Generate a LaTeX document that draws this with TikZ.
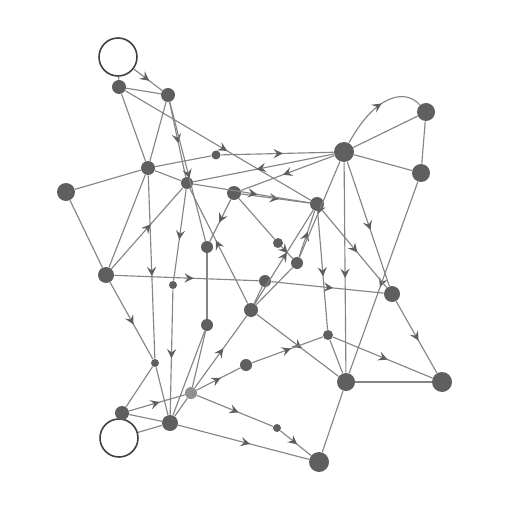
\documentclass[tikz,border=0pt]{standalone}
\usepackage{tikz}
\usetikzlibrary{arrows,decorations.markings}

\definecolor{dotgray}{HTML}{5F5F5F}
\definecolor{linegray}{HTML}{858585}

\begin{document}
\begin{tikzpicture}[x=0.2mm,y=-0.2mm,
		dot/.style={circle,fill=dotgray,inner sep=0pt,minimum size=#1},
		ring/.style={circle,draw=black!75,line width=0.9pt,fill=white,inner sep=0pt,minimum size=7.6mm},
		wire/.style={draw=linegray,line width=0.65pt}]
		\useasboundingbox (0,0) rectangle (512,512);
		\begin{scope}[decoration={markings,mark=at position 0.55 with {\arrow[scale=1.4,>=stealth,dotgray]{>}}}]
		
		% Open rings
		\node[ring] (ringT) at (118,57) {};
		\node[ring] (ringB) at (119,438) {};
		
		% Left column
		\node[dot=2.8mm] (a) at (119,87) {};
		\node[dot=2.8mm] (b) at (168,95) {};
		\node[dot=2.8mm] (c) at (148,168) {};
		\node[dot=3.6mm] (d) at (66,192) {};
		\node[dot=3.2mm] (e) at (106,275) {};
		\node[dot=1.6mm] (aa) at (155,363) {};
		\node[dot=1.6mm] (cc) at (173,285) {};
		\node[dot=2.8mm] (p) at (122,413) {};
		\node[dot=3.2mm] (o) at (170,423) {};
		\node[dot=2.4mm,fill=dotgray!70] (q) at (191,393) {};
		
		% Middle
		\node[dot=2.4mm] (j) at (187,183) {};
		\node[dot=1.8mm] (bb) at (216,155) {};
		\node[dot=2.8mm] (i) at (234,193) {};
		\node[dot=2.4mm] (x) at (207,247) {};
		\node[dot=2.4mm] (y) at (207,325) {};
		\node[dot=2.4mm] (t) at (265,281) {};
		\node[dot=2.8mm] (s) at (251,310) {};
		\node[dot=2.4mm] (z) at (246,365) {};
		\node[dot=2mm] (v) at (278,243) {};
		\node[dot=2.4mm] (w) at (297,263) {};
		\node[dot=2mm] (u) at (328,335) {};
		\node[dot=1.6mm] (dd) at (277,428) {};
		
		% Right side
		\node[dot=2.8mm] (k) at (317,204) {};
		\node[dot=4mm] (f) at (344,152) {};
		\node[dot=3.6mm] (g) at (426,112) {};
		\node[dot=3.6mm] (h) at (421,173) {};
		\node[dot=3.2mm] (r) at (392,294) {};
		\node[dot=3.6mm] (l) at (346,382) {};
		\node[dot=4mm] (m) at (442,382) {};
		\node[dot=4mm] (n) at (319,462) {};
		
		% Draw top lines
		\draw [wire] (ringT) -- (a);
		\draw [wire,postaction={decorate}] (ringT) -- (b);
		\draw [wire] (a) -- (b);
		\draw [wire] (a) -- (c);
		\draw [wire,postaction={decorate}] (a) -- (k);
		\draw [wire] (b) -- (c);
		\draw [wire,postaction={decorate}] (b) -- (j);
		\draw [wire,postaction={decorate}] (b) -- (x);
		
		% Draw left lines
		\draw [wire] (c) -- (d);
		\draw [wire] (c) -- (e);
		\draw [wire] (d) -- (e);
		\draw [wire] (c) -- (bb);
		\draw [wire,postaction={decorate}] (bb) -- (f);
		\draw [wire,postaction={decorate}] (c) -- (aa);
		\draw [wire] (c) -- (j);
		\draw [wire,postaction={decorate}] (e) -- (j);
		\draw [wire,postaction={decorate}] (e) -- (t);
		\draw [wire,postaction={decorate}] (e) -- (aa);
		\draw [wire] (aa) -- (o);
		\draw [wire] (p) -- (aa);
		\draw [wire,postaction={decorate}] (j) -- (cc);
		\draw [wire,postaction={decorate}] (cc) -- (o);
		
		% Draw bottom left lines
		\draw [wire] (o) -- (ringB);
		\draw [wire] (p) -- (o);
		\draw [wire,postaction={decorate}] (p) -- (q);
		\draw [wire] (o) -- (q);
		\draw [wire,postaction={decorate}] (q) -- (s);
		\draw [wire,postaction={decorate}] (q) -- (z);
		\draw [wire] (y) -- (q);
		\draw [wire,postaction={decorate}] (q) -- (dd);
		\draw [wire,postaction={decorate}] (dd) -- (n);
		\draw [wire,postaction={decorate}] (o) -- (n);
		\draw [wire] (o) -- (y);
		
		% Draw middle lines
		\draw [wire,postaction={decorate}] (i) -- (k);
		\draw [wire,postaction={decorate}] (j) -- (k);
		\draw [wire,postaction={decorate}] (f) -- (i);
		\draw [wire,postaction={decorate}] (f) -- (j);
		\draw [wire] (i) -- (v);
		\draw [wire,postaction={decorate}] (v) -- (w);
		\draw [wire,postaction={decorate}] (i) -- (x);
		\draw [wire] (x) -- (y);
		\draw [wire,postaction={decorate}] (s) -- (j);
		\draw [wire] (s) -- (t);
		\draw [wire,postaction={decorate}] (s) -- (k);
		\draw [wire,postaction={decorate}] (s) -- (l);
		\draw [wire] (w) -- (s);
		\draw [wire,postaction={decorate}] (t) -- (r);
		\draw [wire,postaction={decorate}] (z) -- (u);
		\draw [wire,postaction={decorate}] (w) -- (k);
		
		% Draw right lines
		\draw [wire] (f) -- (g);
		\draw [wire,postaction={decorate}] (f) .. controls (375,95) and (405,88) .. (g);
		\draw [wire] (f) -- (h);
		\draw [wire] (g) -- (h);
		\draw [wire,postaction={decorate}] (h) -- (l);
		\draw [wire,postaction={decorate}] (f) -- (r);
		\draw [wire,postaction={decorate}] (f) -- (l);
		\draw [wire,postaction={decorate}] (f) -- (w);
		\draw [wire,postaction={decorate}] (k) -- (r);
		\draw [wire,postaction={decorate}] (k) -- (u);
		\draw [wire,postaction={decorate}] (r) -- (m);
		\draw [wire,postaction={decorate}] (u) -- (m);
		\draw [wire] (l) -- (m);
		\draw [wire] (l) -- (n);
		\draw [wire] (u) -- (l);
		
		\end{scope}
		
		\end{tikzpicture}
\end{document}
